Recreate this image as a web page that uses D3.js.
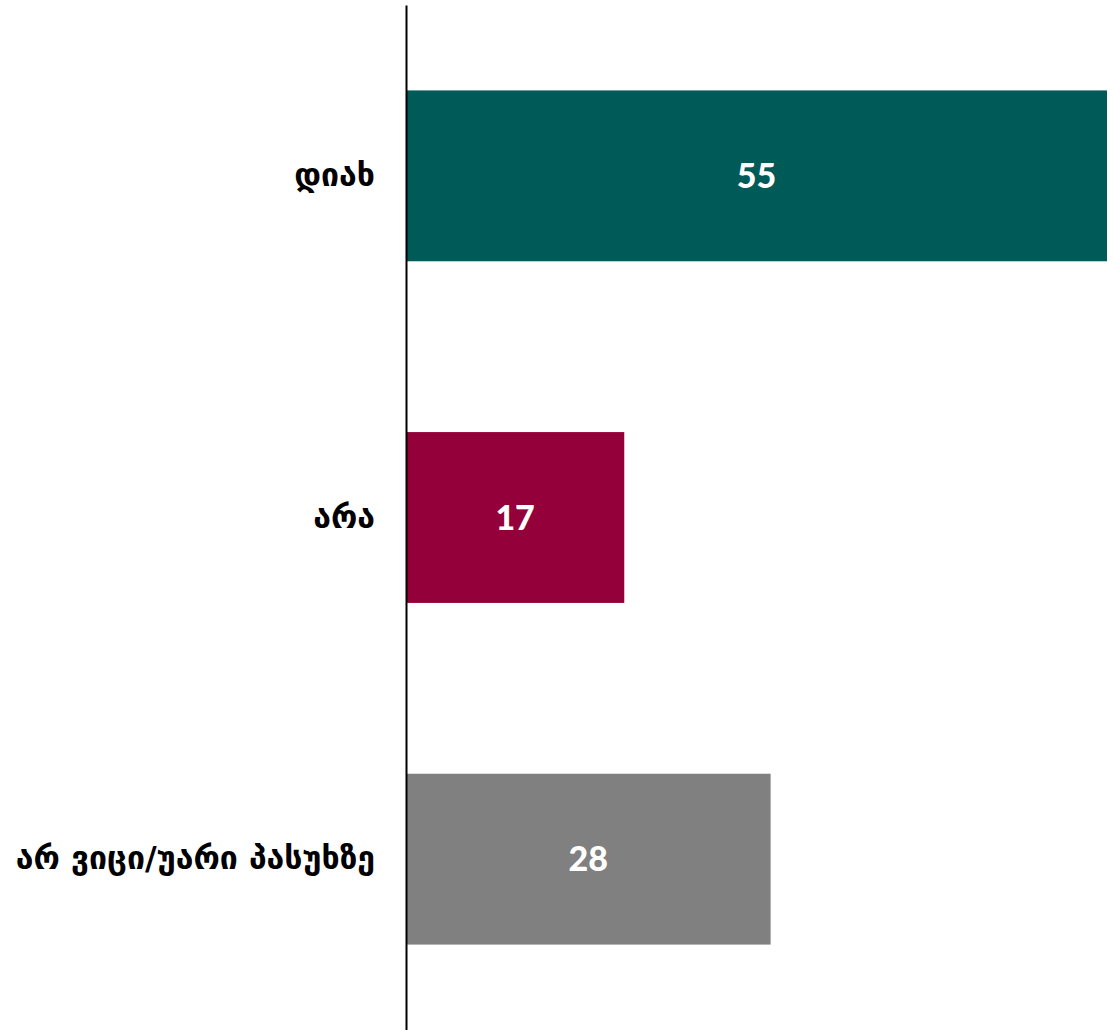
<!DOCTYPE html>
<html>
<head>
<meta charset="utf-8">
<script src="https://cdn.jsdelivr.net/npm/d3@7"></script>
<style>
  html, body { margin: 0; padding: 0; background: #ffffff; }
  svg { display: block; }
</style>
</head>
<body>
<svg id="chart" width="1114" height="1030"></svg>
<script>
const categories = ["დიახ", "არა", "არ ვიცი/უარი პასუხზე"];
const values = [54.6, 17.0, 28.4];
const colors = ["#005a58", "#93003a", "#808080"];

const svg = d3.select("#chart");
const x = d3.scaleLinear().domain([0, 54.6]).range([406, 1107]);
const y = d3.scaleBand().domain(categories).range([5, 1030]).paddingInner(0.5).paddingOuter(0.25);

const data = categories.map((c, i) => ({ c, v: values[i], col: colors[i] }));

svg.selectAll("rect.bar").data(data).join("rect")
  .attr("class", "bar")
  .attr("x", x(0))
  .attr("y", d => y(d.c))
  .attr("width", d => x(d.v) - x(0))
  .attr("height", y.bandwidth())
  .attr("fill", d => d.col);

svg.selectAll("text.val").data(data).join("text")
  .attr("class", "val")
  .attr("x", d => (x(0) + x(d.v)) / 2)
  .attr("y", d => y(d.c) + y.bandwidth() / 2)
  .attr("dy", "0.36em")
  .attr("text-anchor", "middle")
  .attr("fill", "#ffffff")
  .style("font-family", "Lato, 'DejaVu Sans', sans-serif")
  .style("font-weight", "900")
  .style("font-size", "34px")
  .text(d => d3.format(".0f")(d.v));

const axis = svg.append("g")
  .attr("transform", `translate(${x(0)},0)`)
  .call(d3.axisLeft(y).tickSize(0).tickSizeOuter(0).tickPadding(31));
axis.select(".domain").attr("stroke", "#000").attr("stroke-width", 2);
axis.selectAll(".tick text")
  .attr("fill", "#000")
  .style("font-family", "'DejaVu Sans', sans-serif")
  .style("font-weight", "700")
  .style("font-size", "32px");
</script>
</body>
</html>
